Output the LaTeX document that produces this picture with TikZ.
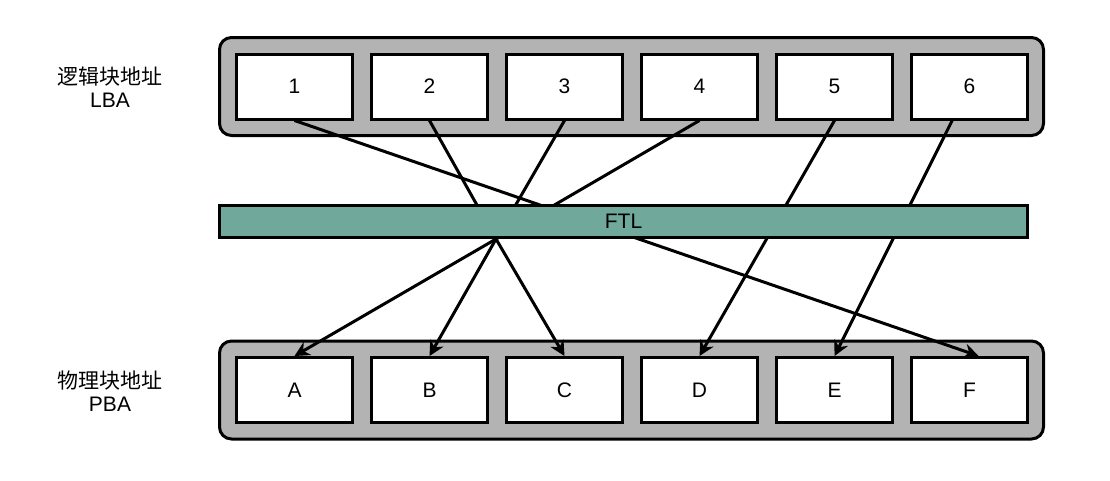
\documentclass[tikz,border=0pt]{standalone}
\usepackage{fontspec}
\setmainfont{Liberation Sans}
\newfontfamily\cjkfont{Noto Sans CJK SC}
\usetikzlibrary{arrows.meta}

\definecolor{slotgray}{RGB}{179,179,179}
\definecolor{ftlgreen}{RGB}{112,168,156}

\tikzstyle{container} = [draw,line width=3pt,rounded corners=12pt,fill=slotgray,minimum width=824pt,minimum height=98pt]
\tikzstyle{block} = [draw,line width=3pt,fill=white,minimum width=116pt,minimum height=65pt,font=\fontsize{21}{24}\selectfont]
\tikzstyle{layer} = [draw,line width=2.5pt,fill=ftlgreen,minimum width=808pt,minimum height=32pt,font=\fontsize{21}{24}\selectfont]
\tikzstyle{caption} = [align=center,font=\fontsize{21}{23}\selectfont]
\tikzstyle{map} = [draw,line width=3pt,-]
\tikzstyle{maparrow} = [draw,line width=3pt,-{Stealth[length=15pt,width=15pt,inset=5pt]}]

\begin{document}
\begin{tikzpicture}[x=1pt,y=-1pt]
      \useasboundingbox (0,0) rectangle (1110,480);
      %containers
      \node[container] (lba) at (631.5,86.5) {};
      \node[container] (pba) at (631.5,390) {};
      \node[caption] (lbatext) at (110,87) {{\cjkfont 逻辑块地址}\\LBA};
      \node[caption] (pbatext) at (110,391) {{\cjkfont 物理块地址}\\PBA};
      %blocks
      \foreach \nodename/\x/\value in {
        l1/294.5/1, l2/429.5/2, l3/564.5/3, l4/699.5/4, l5/834.5/5, l6/969.5/6}
      {
        \node[block] (\nodename) at (\x,86.5) {\value};
      };
      \foreach \nodename/\x/\value in {
        pA/294.5/A, pB/429.5/B, pC/564.5/C, pD/699.5/D, pE/834.5/E, pF/969.5/F}
      {
        \node[block] (\nodename) at (\x,390) {\value};
      };
      \coordinate (hub) at (496,239);
      %edges under the FTL
      \path
      \foreach \startnode/\endnode in {l2.south/hub, l3.south/hub, l4.south/hub}
      {
        (\startnode) edge[map] (\endnode)
      };
      \path
      \foreach \startnode/\endnode in {l1.south/pF.75, l5.south/pD.north, l6.243/pE.north}
      {
        (\startnode) edge[maparrow] (\endnode)
      };
      \node[layer] (ftl) at (623.5,221.5) {FTL};
      %edges out of the FTL
      \path
      \foreach \endnode in {pA, pB, pC}
      {
        (hub) edge[maparrow] (\endnode.north)
      };
    \end{tikzpicture}
\end{document}
